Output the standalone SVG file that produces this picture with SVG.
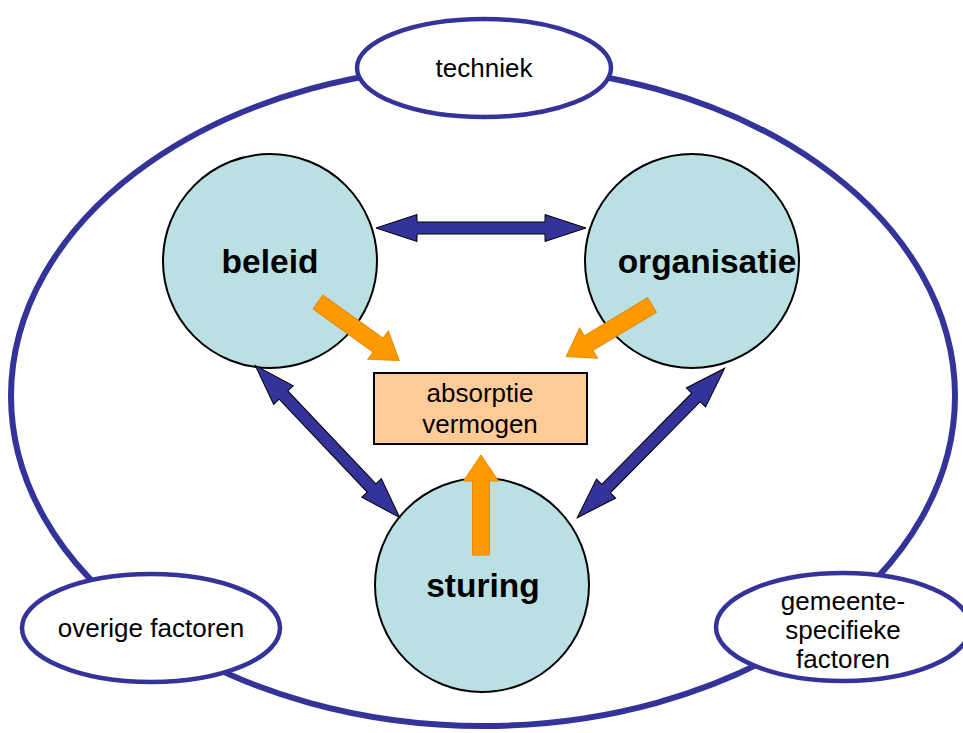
<svg xmlns="http://www.w3.org/2000/svg" width="963" height="733" viewBox="0 0 963 733">
  <style>
    .ring { fill: none; stroke: #333399; stroke-width: 6; }
    .oval { fill: #ffffff; stroke: #333399; stroke-width: 4.5; }
    .core { fill: #bbe0e3; stroke: #000000; stroke-width: 2; }
    .box { fill: #ffcc99; stroke: #000000; stroke-width: 2; }
    .dbl { fill: #333399; stroke: #000000; stroke-width: 1; }
    .push { fill: #ff9900; stroke: #e08a00; stroke-width: 1; }
    .lbl { font-family: "Liberation Sans", Arial, sans-serif; font-size: 26px; fill: #000000; text-anchor: middle; }
    .big { font-family: "Liberation Sans", Arial, sans-serif; font-size: 33.5px; font-weight: bold; fill: #000000; text-anchor: middle; }
  </style>
  <defs>
    <!-- two-headed link, 210 long, centred on the origin -->
    <path id="twoway" d="M-105,0 L-64,-13.5 L-64,-6 L64,-6 L64,-13.5 L105,0 L64,13.5 L64,6 L-64,6 L-64,13.5 Z"/>
    <!-- one-headed arrow, tail at origin, tip at (100,0) -->
    <path id="oneway" d="M0,-8.5 L74,-8.5 L74,-17.5 L100,0 L74,17.5 L74,8.5 L0,8.5 Z"/>
  </defs>

  <rect width="963" height="733" fill="#ffffff"/>

  <!-- surrounding environment ring -->
  <ellipse class="ring" cx="483" cy="396" rx="472" ry="330"/>

  <g id="techniek">
    <ellipse class="oval" cx="484" cy="68" rx="127" ry="49"/>
    <text class="lbl" x="484" y="77">techniek</text>
  </g>

  <g id="overige-factoren">
    <ellipse class="oval" cx="151" cy="628" rx="129" ry="54"/>
    <text class="lbl" x="151" y="637">overige factoren</text>
  </g>

  <g id="gemeente-specifieke-factoren">
    <ellipse class="oval" cx="843" cy="627" rx="127" ry="54"/>
    <text class="lbl" x="843" y="610">gemeente-</text>
    <text class="lbl" x="843" y="639">specifieke</text>
    <text class="lbl" x="843" y="668">factoren</text>
  </g>

  <g id="beleid">
    <circle class="core" cx="270" cy="261" r="107"/>
    <text class="big" x="270" y="273">beleid</text>
  </g>

  <g id="organisatie">
    <circle class="core" cx="692" cy="261" r="107"/>
    <text class="big" x="707" y="273">organisatie</text>
  </g>

  <g id="sturing">
    <circle class="core" cx="482" cy="585" r="107"/>
    <text class="big" x="483" y="597">sturing</text>
  </g>

  <g id="absorptievermogen">
    <rect class="box" x="374" y="373" width="213" height="71"/>
    <text class="lbl" x="480" y="402">absorptie</text>
    <text class="lbl" x="480" y="433">vermogen</text>
  </g>

  <g id="connectors">
    <use href="#twoway" class="dbl" transform="translate(481,228)"/>
    <use href="#twoway" class="dbl" transform="translate(327.5,441.5) rotate(46.5)"/>
    <use href="#twoway" class="dbl" transform="translate(651,443) rotate(-45.4)"/>
    <use href="#oneway" class="push" transform="translate(318,302) rotate(35.7)"/>
    <use href="#oneway" class="push" transform="translate(652,305) rotate(149)"/>
    <use href="#oneway" class="push" transform="translate(481,555) rotate(-90)"/>
  </g>
</svg>
